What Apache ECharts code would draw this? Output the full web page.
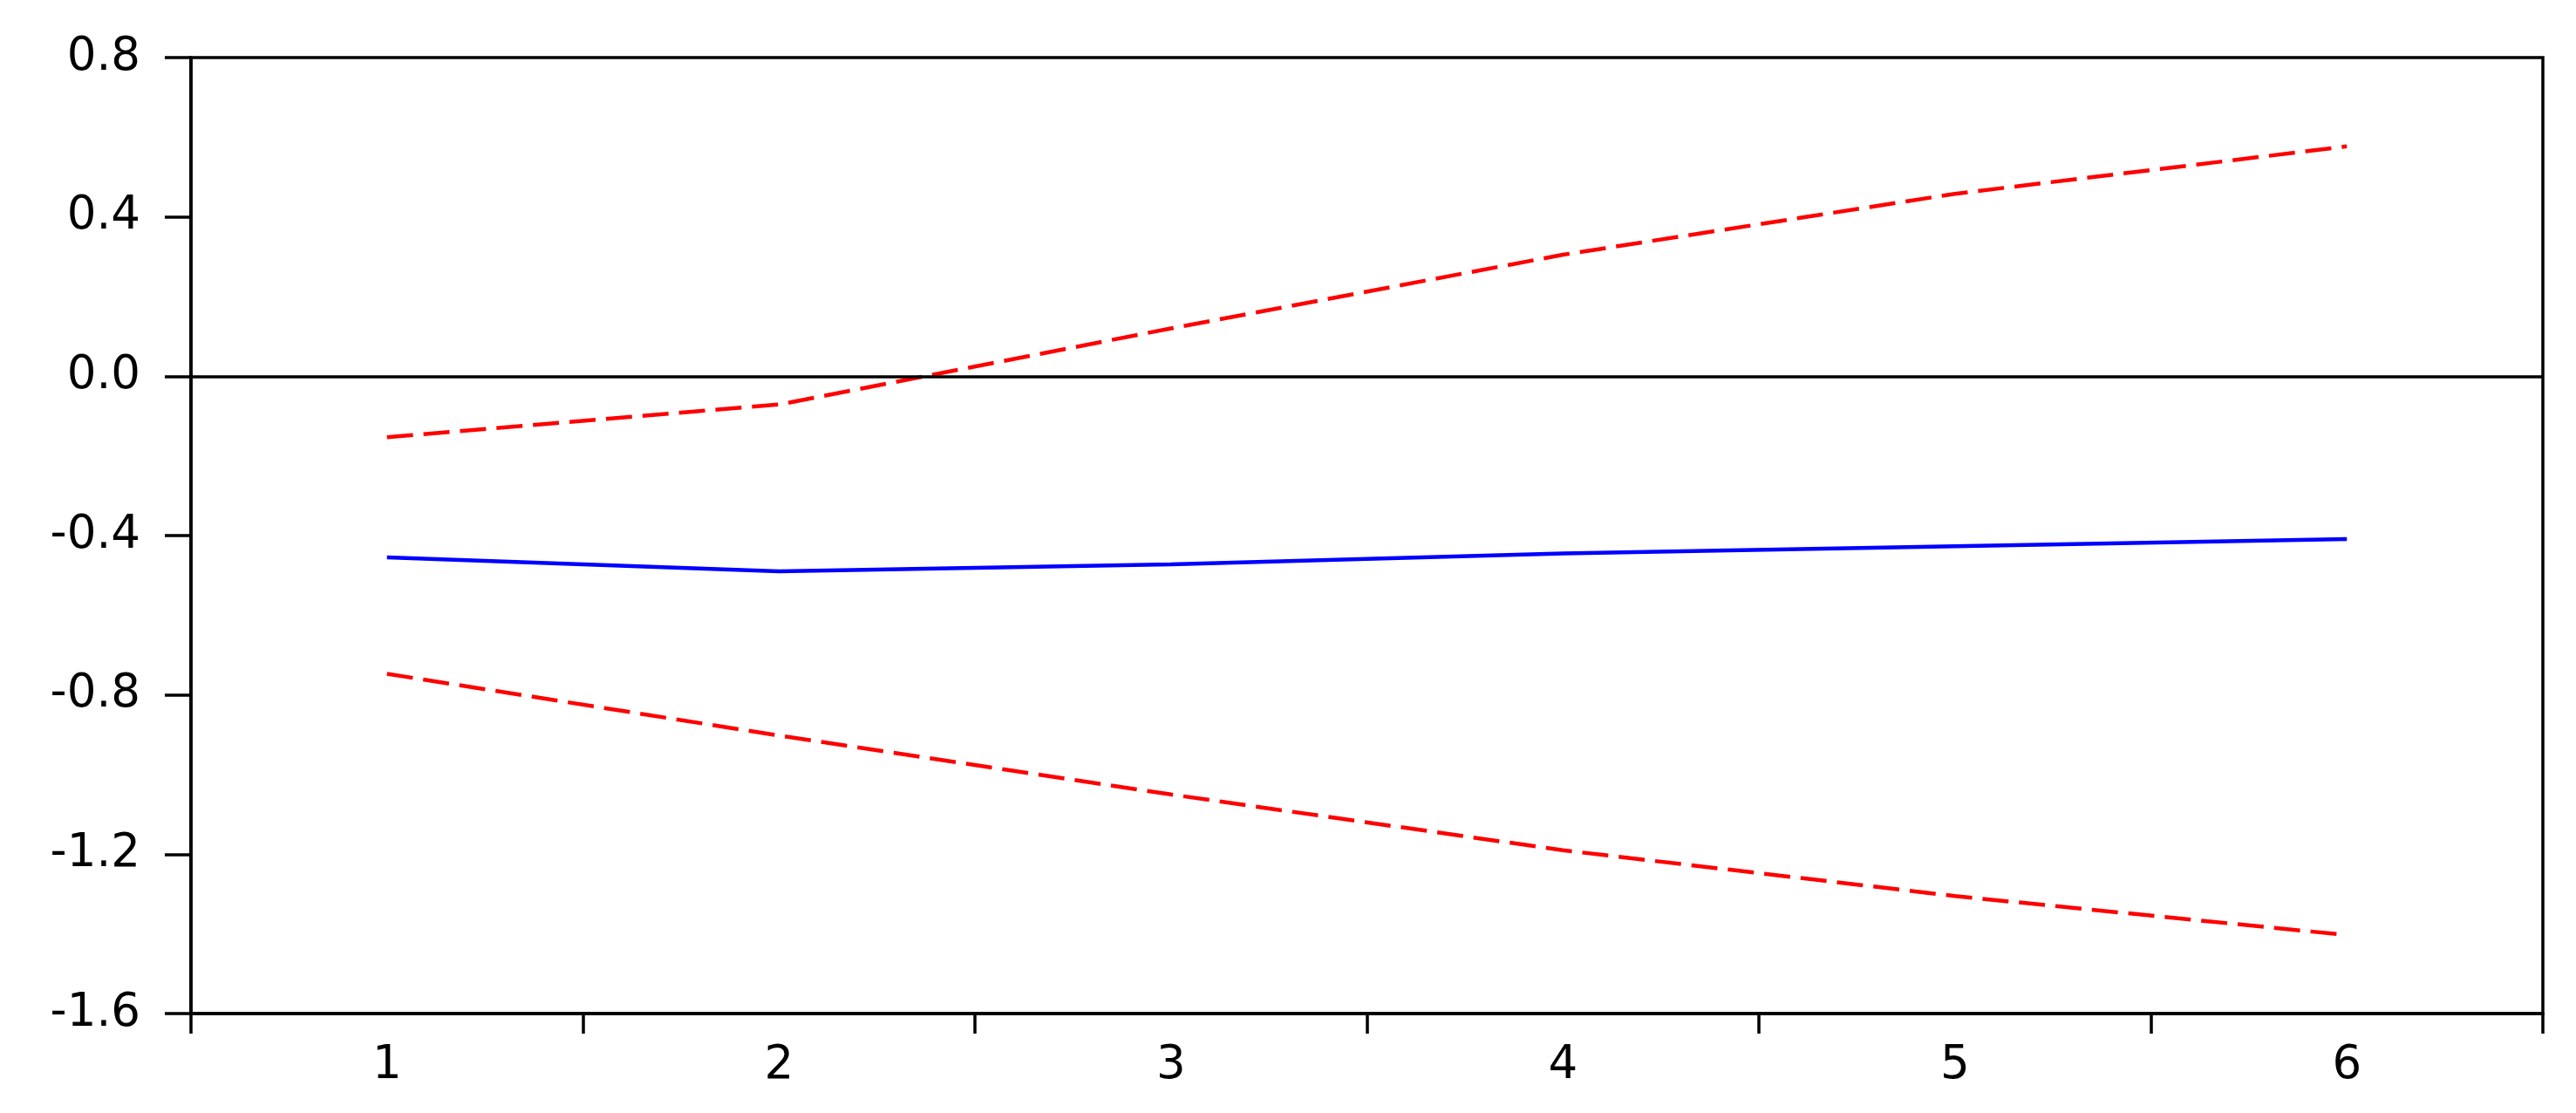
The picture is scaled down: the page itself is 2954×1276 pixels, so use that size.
<!DOCTYPE html>
<html>
<head>
<meta charset="utf-8">
<script src="https://cdn.jsdelivr.net/npm/echarts@6/dist/echarts.min.js"></script>
<style>
    html, body {margin: 0; padding: 0; background: #fff;}
    #chart {width: 2954px; height: 1276px;}
</style>
</head>
<body>
<div id="chart"></div>
<script>
// periods on the x axis
const periods = ['1', '2', '3', '4', '5', '6'];
// response and its +/- 2 s.e. bands
const response = [-0.455, -0.490, -0.472, -0.445, -0.427, -0.409];
const upperBand = [-0.153, -0.071, 0.120, 0.305, 0.458, 0.577];
const lowerBand = [-0.747, -0.902, -1.050, -1.190, -1.305, -1.403];

const chart = echarts.init(document.getElementById('chart'));

const labelFont = {
    fontFamily: 'DejaVu Sans',
    fontSize: 53,
    color: '#000'
};

const bandStyle = {
    color: '#ff0000',
    width: 4.5,
    type: [30, 12]
};

const option = {
    animation: false,
    backgroundColor: '#fff',
    grid: {
        left: 219,
        right: 38,
        top: 66,
        bottom: 114,
        show: true,
        borderColor: '#000',
        borderWidth: 3.5
    },
    xAxis: {
        type: 'category',
        data: periods,
        boundaryGap: true,
        axisLine: {onZero: false, lineStyle: {color: '#000', width: 3.5}},
        axisTick: {show: true, inside: false, length: 23, lineStyle: {color: '#000', width: 3.5}},
        axisLabel: Object.assign({margin: 34}, labelFont),
        splitLine: {show: false}
    },
    yAxis: {
        type: 'value',
        min: -1.6,
        max: 0.8,
        interval: 0.4,
        axisLine: {show: true, lineStyle: {color: '#000', width: 3.5}},
        axisTick: {show: true, inside: false, length: 30, lineStyle: {color: '#000', width: 3.5}},
        axisLabel: Object.assign({
            margin: 58,
            formatter: function (v) {
                return v.toFixed(1);
            }
        }, labelFont),
        splitLine: {show: false}
    },
    series: [
        {
            name: 'upper',
            type: 'line',
            data: upperBand,
            symbol: 'none',
            lineStyle: bandStyle
        },
        {
            name: 'response',
            type: 'line',
            data: response,
            symbol: 'none',
            lineStyle: {color: '#0000ff', width: 4.5},
            markLine: {
                silent: true,
                symbol: 'none',
                label: {show: false},
                lineStyle: {color: '#000', width: 3.5, type: 'solid'},
                data: [{yAxis: 0}]
            }
        },
        {
            name: 'lower',
            type: 'line',
            data: lowerBand,
            symbol: 'none',
            lineStyle: bandStyle
        }
    ]
};

chart.setOption(option);
</script>
</body>
</html>
